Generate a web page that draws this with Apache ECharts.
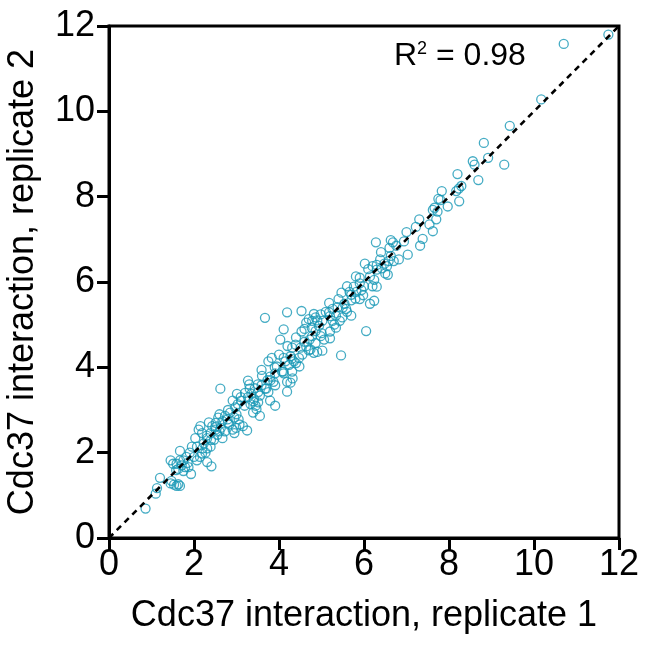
<!DOCTYPE html>
<html>
<head>
<meta charset="utf-8">
<script src="https://cdn.jsdelivr.net/npm/echarts@6/dist/echarts.min.js"></script>
<style>html,body{margin:0;padding:0;background:#fff}#c{width:649px;height:648px}</style>
</head>
<body>
<div id="c"></div>
<script>
const xTicks = [0, 2, 4, 6, 8, 10, 12];
const yTicks = [0, 2, 4, 6, 8, 10, 12];
const xName = 'Cdc37 interaction, replicate 1';
const yName = 'Cdc37 interaction, replicate 2';
const r2Text = '0.98';
const fitLine = [[0, 0], [12, 12]];

const rep1 = [
11.75,10.70,10.17,9.43,8.82,8.92,9.30,8.56,8.60,8.69,8.20,8.29,8.23,8.17,8.24,7.83,7.75,7.80,7.97,
7.66,7.62,7.73,7.70,7.62,7.54,7.30,7.22,7.00,6.94,7.38,7.32,7.03,6.63,6.68,6.76,6.28,
6.38,6.48,6.58,6.63,6.70,6.82,6.54,6.42,6.56,
6.02,6.20,6.30,6.14,6.24,6.30,6.14,6.24,6.05,
5.81,5.90,5.76,5.66,5.82,5.94,5.98,5.80,5.70,
5.47,5.54,5.38,5.58,5.70,5.49,
5.18,5.26,5.18,5.34,5.43,5.26,5.34,5.20,5.20,5.46,
4.98,4.86,4.78,4.70,4.82,5.02,4.94,4.77,4.86,4.98,5.06,4.78,4.72,4.86,4.64,4.74,4.82,4.90,5.02,
4.53,4.19,3.67,4.11,4.03,4.53,4.64,
4.39,4.51,4.55,4.47,4.31,4.27,4.35,4.48,4.24,4.11,4.15,
3.83,3.75,3.95,4.07,3.91,3.79,3.87,3.59,3.73,3.91,4.11,4.19,4.31,4.32,4.27,4.19,
3.27,3.31,3.43,3.51,3.35,3.27,3.41,3.51,3.33,3.45,3.55,3.67,3.75,3.59,3.79,3.91,3.55,3.39,3.47,3.19,3.11,3.03,
2.62,
3.01,2.91,2.97,2.85,2.95,3.05,2.79,2.73,2.67,2.83,2.91,2.99,3.07,3.15,3.25,2.95,
2.57,2.51,2.43,2.35,2.51,2.63,2.39,2.55,2.67,2.47,2.73,2.31,2.19,2.15,2.11,2.23,2.03,2.07,1.95,2.31,2.39,2.19,2.27,2.14,2.07,2.31,2.41,
1.67,1.82,1.75,1.85,1.71,1.59,1.63,1.79,1.87,1.93,1.45,1.51,1.75,1.67,1.58,
1.47,1.45,1.53,1.59,1.67,1.63,1.20,1.13,1.10,0.86,
2.60,2.80,3.10,3.30,3.60,3.90,4.00,4.20,4.40,4.60,4.90,5.10,5.40,5.60,5.90,6.10,6.40,6.60,
3.00,3.40,3.70,4.10,4.40,4.70,5.00,5.30,5.60,5.90,6.20,6.50,2.30,2.50,1.90,2.00,2.20,2.40,2.60,2.80,
3.20,3.50,3.80,4.30,4.60,5.20,5.50,5.70,6.00,6.30
];
const rep2 = [
11.80,11.58,10.28,9.66,9.26,8.91,8.75,8.83,8.75,8.39,8.53,8.25,8.19,8.13,7.89,8.13,7.95,7.92,7.77,
7.74,7.69,7.65,7.47,7.19,7.35,7.47,7.29,7.17,6.95,7.01,6.85,6.64,6.98,6.93,6.85,6.93,
6.53,6.43,6.49,6.61,6.49,6.53,6.37,6.32,6.17,
6.43,6.37,6.29,6.13,6.05,5.89,5.49,5.56,4.85,
6.13,5.97,5.89,5.77,5.77,5.81,5.69,5.61,5.57,
5.75,5.49,5.41,5.37,5.21,5.17,
5.51,5.37,5.29,5.21,5.09,5.09,4.93,4.84,4.68,4.28,
5.24,5.17,5.09,5.13,5.25,5.09,4.97,4.93,4.85,4.73,4.65,4.73,4.65,4.57,4.49,4.42,4.34,4.36,4.39,
5.32,5.29,5.16,4.89,4.65,4.84,5.05,
4.53,4.46,4.30,4.22,4.46,4.26,4.14,4.02,4.06,4.22,4.14,
4.22,4.14,4.02,3.90,3.86,3.78,3.66,3.94,3.70,3.58,3.86,3.66,3.90,3.74,3.64,3.43,
3.69,3.50,3.51,3.42,3.38,3.30,3.26,3.18,3.14,3.10,3.34,3.50,3.42,3.58,3.22,3.10,2.86,2.94,3.02,3.10,3.22,3.14,
3.50,
3.38,3.22,3.06,2.94,2.82,2.78,2.78,2.86,2.74,2.66,2.54,2.58,2.66,2.62,2.52,2.46,
2.82,2.70,2.62,2.71,2.54,2.58,2.46,2.42,2.34,2.30,2.50,2.34,2.46,2.62,2.54,2.22,2.34,2.14,2.14,2.10,2.14,1.98,2.00,1.90,1.82,1.78,1.68,
2.04,1.90,1.82,1.76,1.70,1.74,1.62,1.66,1.66,1.50,1.82,1.74,1.57,1.82,1.59,
1.34,1.28,1.25,1.22,1.22,1.26,1.41,1.17,1.04,0.69,
2.90,3.00,3.30,3.60,3.80,4.00,4.30,4.50,4.70,4.90,5.10,5.30,5.60,5.90,6.10,6.30,6.70,6.80,
2.90,3.20,3.50,3.90,4.10,4.40,4.80,5.00,5.30,5.60,5.90,6.20,2.40,2.60,2.00,1.90,2.10,2.30,2.50,2.70,
3.40,3.60,3.70,4.20,4.60,5.20,5.40,5.70,5.90,6.40
];

const points = rep1.map((v, i) => [v, rep2[i]]);
const FONT = 'Liberation Sans, Arial, Helvetica, sans-serif';
const chart = echarts.init(document.getElementById('c'), null, {renderer: 'canvas'});

const axisCommon = {
  type: 'value', min: 0, max: 12, interval: 2,
  axisLine: {show: true, onZero: false, lineStyle: {color: '#000', width: 3}},
  axisTick: {show: true, inside: false, length: 12, lineStyle: {color: '#000', width: 3}},
  splitLine: {show: false},
  nameLocation: 'middle',
  nameTextStyle: {color: '#000', fontSize: 36, fontFamily: FONT}
};

chart.setOption({
  animation: false,
  backgroundColor: '#fff',
  grid: {left: 109, right: 30, top: 26, bottom: 110, containLabel: false, outerBoundsMode: 'none',
    show: true, borderColor: '#000', borderWidth: 3, backgroundColor: 'transparent'},
  xAxis: Object.assign({}, axisCommon, {
    name: xName, nameGap: 60,
    axisLabel: {color: '#000', fontSize: 36, fontFamily: FONT, margin: 9,
      formatter: v => xTicks.includes(v) ? String(v) : ''}
  }),
  yAxis: Object.assign({}, axisCommon, {
    name: yName, nameGap: 68,
    axisLabel: {color: '#000', fontSize: 36, fontFamily: FONT, margin: 14,
      formatter: v => yTicks.includes(v) ? String(v) : ''}
  }),
  graphic: [{
    type: 'text', left: 394, top: 40, z: 100,
    style: {
      text: 'R{sup|2} = ' + r2Text,
      fill: '#000', fontSize: 32, fontFamily: FONT,
      rich: {sup: {fontSize: 18, fontFamily: FONT, fill: '#000', verticalAlign: 'top', padding: [0, 0, 12, 0]}}
    }
  }],
  series: [
    {
      type: 'scatter', data: points, symbol: 'circle', symbolSize: 9,
      itemStyle: {color: 'rgba(0,0,0,0)', borderColor: '#1797b5', borderWidth: 1.3},
      z: 2
    },
    {
      type: 'line', data: fitLine, symbol: 'none', z: 3,
      lineStyle: {color: '#000', width: 2.6, type: [6, 5]}
    }
  ]
});
</script>
</body>
</html>
